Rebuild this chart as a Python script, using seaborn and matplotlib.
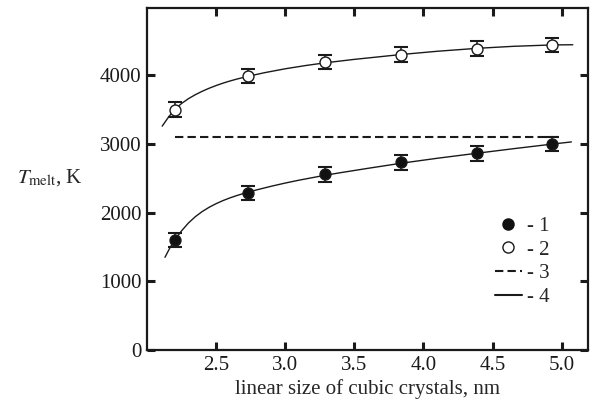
import matplotlib
matplotlib.use("Agg")
import matplotlib.pyplot as plt
from matplotlib.lines import Line2D
import seaborn as sns
import pandas as pd

# Measured melting temperatures vs. crystal size
size_nm = [2.20, 2.73, 3.29, 3.84, 4.39, 4.93]
t_melt_1 = [1600, 2290, 2557, 2732, 2863, 3000]   # filled circles
t_melt_2 = [3500, 3990, 4190, 4300, 4390, 4440]   # open circles
t_err = [105, 105, 105, 105, 105, 105]

# Bulk melting level (dashed line)
bulk_x = [2.20, 4.98]
bulk_t = [3100, 3100]

# Fitted curves (solid lines)
fit1_x = [2.13, 2.165, 2.20, 2.25, 2.30, 2.35, 2.40, 2.45, 2.50, 2.55, 2.60, 2.65, 2.70, 2.73,
          2.80, 2.90, 3.00, 3.10, 3.20, 3.29, 3.40, 3.60, 3.84, 4.10, 4.39, 4.65, 4.93, 5.07]
fit1_t = [1350, 1485, 1600, 1735, 1850, 1942, 2017, 2079, 2131, 2176, 2215, 2249, 2280, 2297,
          2335, 2385, 2431, 2473, 2511, 2545, 2582, 2646, 2720, 2792, 2866, 2931, 2998, 3030]
fit2_x = [2.11, 2.155, 2.20, 2.25, 2.30, 2.35, 2.40, 2.45, 2.50, 2.55, 2.60, 2.65, 2.73,
          2.85, 3.00, 3.15, 3.29, 3.50, 3.84, 4.10, 4.39, 4.65, 4.93, 5.08]
fit2_t = [3260, 3390, 3500, 3590, 3660, 3718, 3768, 3812, 3851, 3886, 3917, 3945, 3985,
          4038, 4095, 4143, 4182, 4232, 4303, 4350, 4393, 4422, 4442, 4445]

sns.set_style("ticks")
plt.rcParams["font.family"] = ["Liberation Serif", "DejaVu Serif"]
plt.rcParams["mathtext.fontset"] = "stix"

ink = "#1a1a1a"
fig = plt.figure(figsize=(5.91, 4.05), dpi=100)
ax = fig.add_axes([147 / 591, 1 - 350 / 405, 441 / 591, 342 / 405])

for fx, ft in ((fit1_x, fit1_t), (fit2_x, fit2_t)):
    df = pd.DataFrame({"x": fx, "t": ft})
    sns.lineplot(data=df, x="x", y="t", ax=ax, color=ink, lw=1.0, sort=False)
sns.lineplot(x=bulk_x, y=bulk_t, ax=ax, color=ink, lw=1.5, linestyle=(0, (4, 2)))

for vals, face in ((t_melt_1, "#111111"), (t_melt_2, "white")):
    ax.errorbar(size_nm, vals, yerr=t_err, fmt="none", ecolor=ink,
                elinewidth=1.1, capsize=5, capthick=1.5, zorder=3)
    sns.scatterplot(x=size_nm, y=vals, ax=ax, s=62, color=face,
                    edgecolor=ink, linewidth=1.0, zorder=4)

ax.set_xlim(2.0, 5.19)
ax.set_ylim(0, 4980)
ax.set_xticks([2.5, 3.0, 3.5, 4.0, 4.5, 5.0])
ax.set_xticklabels(["2.5", "3.0", "3.5", "4.0", "4.5", "5.0"])
ax.set_yticks([0, 1000, 2000, 3000, 4000])
ax.set_yticklabels(["0", "1000", "2000", "3000", "4000"])
ax.tick_params(direction="in", length=6, width=2.2, labelsize=15,
               top=True, right=True, colors=ink, pad=4)
for sp in ax.spines.values():
    sp.set_linewidth(1.6)
    sp.set_color(ink)

ax.set_xlabel("linear size of cubic crystals, nm", fontsize=15, labelpad=3)
ax.set_ylabel("")
fig.text(17 / 591, 1 - 178 / 405, r"$T_{\rm melt}$, K", fontsize=15,
         ha="left", va="center")

handles = [
    Line2D([], [], marker="o", ls="none", ms=8, mfc="#111111", mec="#111111"),
    Line2D([], [], marker="o", ls="none", ms=8, mfc="white", mec=ink),
    Line2D([], [], color=ink, lw=1.5, ls=(0, (4, 2))),
    Line2D([], [], color=ink, lw=1.5),
]
ax.legend(handles, ["- 1", "- 2", "- 3", "- 4"], loc="upper left",
          bbox_to_anchor=(0.77, 0.415), frameon=False, fontsize=15,
          handlelength=1.3, handletextpad=0.25, labelspacing=0.2,
          borderaxespad=0)

fig.savefig("out.png", dpi=100)
